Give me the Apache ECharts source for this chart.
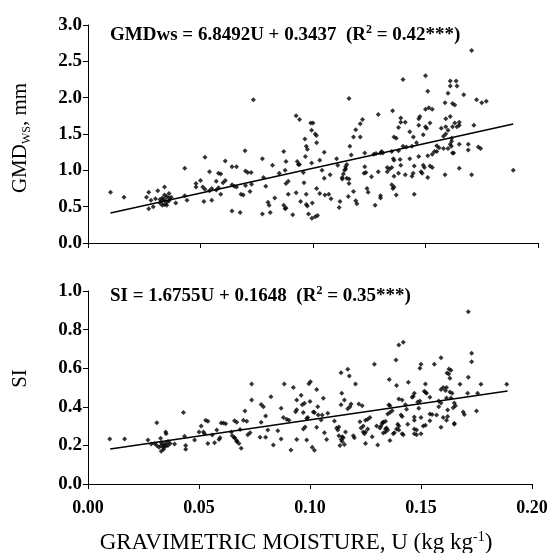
<!DOCTYPE html>
<html>
<head>
<meta charset="utf-8">
<script src="https://cdn.jsdelivr.net/npm/echarts@6/dist/echarts.min.js"></script>
<style>
html,body{margin:0;padding:0;background:#fff;}
#c{width:550px;height:553px;}
</style>
</head>
<body>
<div id="c"></div>
<script>
// ---- Top panel: GMDws vs U ----
var topU = [
0.010,0.016,0.027,0.026,0.028,0.027,0.029,0.031,0.030,0.034,
0.032,0.033,0.033,0.034,0.034,0.035,0.035,0.036,0.036,0.033,0.034,0.035,0.032,0.036,
0.037,0.039,0.043,0.043,0.044,0.048,0.048,0.050,0.0515,0.052,0.051,
0.052,0.054,0.055,0.057,0.058,0.055,0.054,0.058,0.059,0.057,0.061,0.059,0.060,0.061,
0.064,0.066,0.064,0.064,
0.0735,0.065,0.066,0.068,0.069,0.0676,0.0698,0.070,0.071,0.0725,0.072,0.0727,0.070,
0.0775,0.078,0.079,0.0775,0.080,0.0805,0.081,0.082,0.083,0.085,0.087,0.087,0.088,
0.088,0.0876,0.088,0.089,0.089,0.091,0.0925,0.094,0.093,0.0935,0.094,0.0925,0.0945,
0.0957,0.096,0.0966,0.0964,0.097,0.0975,0.097,0.097,0.0975,0.098,0.099,0.100,0.0994,
0.101,0.1015,0.0994,0.0997,0.1016,0.101,0.102,0.1016,0.103,0.103,0.104,0.105,0.105,
0.1053,0.107,0.1076,0.108,0.1105,0.111,0.1116,0.112,
0.113,0.1135,0.114,0.1145,0.115,0.1145,0.113,0.115,0.116,
0.116,0.1164,0.117,0.116,0.1157,0.118,0.119,0.118,0.121,0.121,0.119,0.1195,0.122,
0.1227,0.1235,0.123,0.123,0.124,0.1245,0.127,0.128,0.126,0.1276,0.129,0.129,0.130,0.130,
0.1305,0.0876,0.0995,
0.1705,0.140,0.150,0.151,0.161,0.1636,0.161,0.164,0.160,0.167,0.1587,0.162,0.163,
0.1727,0.175,0.177,0.1354,0.150,0.1515,0.153,0.139,0.139,0.141,0.147,0.1475,0.138,
0.143,0.147,0.150,0.1505,0.152,0.159,0.161,
0.157,0.159,0.160,0.162,0.163,0.165,0.165,0.164,
0.136,0.137,0.1446,0.149,0.158,0.159,0.1616,0.1616,0.1715,0.140,0.1415,0.144,0.146,
0.155,0.156,0.158,0.160,0.161,0.1615,0.165,0.169,0.169,0.1735,0.1745,0.130,0.131,
0.135,0.138,0.1357,0.1387,0.143,0.147,0.151,0.153,0.154,0.155,0.162,0.1625,0.189,
0.133,0.134,0.135,0.136,0.139,0.145,0.149,0.1495,0.152,0.153,0.165,0.1587,0.1705,
0.133,0.136,0.138,0.141,0.144,0.1445,0.148,0.1485,0.151,0.135,0.1355,0.136,0.137,0.145
];
var topGMD = [
0.70,0.63,0.70,0.63,0.59,0.47,0.50,0.72,0.61,0.77,
0.55,0.52,0.58,0.53,0.60,0.56,0.64,0.58,0.68,0.62,0.66,0.52,0.60,0.62,
0.63,0.55,1.03,0.65,0.59,0.82,0.77,0.86,0.57,1.18,0.77,
0.74,0.72,0.75,0.73,0.76,0.59,0.98,0.96,0.95,0.85,1.13,0.67,0.83,0.86,
1.05,1.05,0.44,0.80,
1.97,0.78,0.77,0.67,0.66,0.42,1.27,0.99,0.97,0.97,0.71,0.81,0.79,
1.16,0.90,0.78,0.40,0.56,0.52,0.42,1.07,0.62,0.96,1.26,0.52,0.48,
1.12,1.00,0.82,0.85,0.67,0.39,1.75,1.70,1.12,1.08,1.08,0.69,0.57,
0.97,0.83,1.19,1.43,1.33,1.29,0.67,0.53,0.51,0.40,1.65,1.65,1.55,
1.50,1.48,1.10,0.55,1.38,0.36,0.38,0.75,1.14,0.68,1.00,1.25,0.89,
0.66,0.67,0.94,0.61,1.16,1.07,0.49,0.57,
0.90,0.95,1.00,1.05,1.08,1.02,0.88,0.89,0.88,
1.99,1.33,1.21,0.82,0.64,0.71,1.56,1.46,1.46,1.64,0.58,0.54,1.70,
0.96,0.97,1.24,1.05,0.75,0.70,1.22,1.23,0.91,0.52,1.77,0.98,0.65,0.62,
1.26,0.47,0.34,
2.65,2.25,2.30,2.09,2.23,2.23,2.16,2.16,2.06,2.04,1.93,1.92,1.90,
1.97,1.93,1.95,1.82,1.84,1.86,1.84,1.72,1.66,1.66,1.71,1.74,1.59,
1.53,1.62,1.60,1.58,1.65,1.71,1.74,
1.58,1.60,1.55,1.60,1.65,1.66,1.62,1.60,
1.46,1.44,1.46,1.49,1.47,1.50,1.44,1.40,1.62,1.33,1.32,1.33,1.38,
1.34,1.31,1.30,1.30,1.36,1.33,1.36,1.36,1.28,1.32,1.30,1.24,1.24,
1.26,1.27,1.16,1.15,1.16,1.19,1.20,1.22,1.26,1.26,1.24,1.24,1.00,
1.04,1.02,1.04,1.14,1.07,1.06,1.07,1.04,1.06,1.04,1.03,0.94,0.94,
0.98,0.92,0.96,0.94,0.92,0.96,0.98,0.96,0.90,0.80,0.75,0.77,0.66,0.67
];

// ---- Bottom panel: SI vs U ----
var botU = [
0.0098,0.0165,0.027,0.0285,0.031,0.0327,0.035,0.0352,
0.032,0.033,0.033,0.034,0.034,0.035,0.035,0.036,0.036,0.037,0.033,0.034,0.031,0.030,
0.039,0.043,0.0435,0.044,0.044,0.048,0.050,0.051,0.053,0.054,0.052,0.0525,0.054,
0.056,0.057,0.058,0.060,0.061,0.062,0.059,0.0595,0.0646,0.065,0.067,0.066,0.067,
0.0737,0.0737,0.0707,0.070,0.0715,0.0685,0.066,0.066,0.067,0.068,0.069,0.072,0.073,
0.078,0.078,0.079,0.0775,0.080,0.080,0.081,0.0824,0.0835,0.0855,0.087,0.087,0.0884,
0.088,0.0895,0.0905,0.0914,0.0925,0.0935,0.094,0.094,0.094,0.096,0.0965,0.0975,0.097,
0.097,0.0978,0.0985,0.099,0.0985,0.0995,0.1002,0.100,0.101,0.102,0.1015,0.102,0.103,
0.1035,0.103,0.1037,0.105,0.106,0.1055,0.1065,0.1075,0.108,0.111,0.112,0.1125,0.113,
0.113,0.1145,0.114,0.115,0.1145,0.116,0.1135,0.1155,
0.114,0.1143,0.114,0.1155,0.117,0.1177,0.117,0.118,0.1185,0.1195,0.120,0.1205,0.122,
0.1235,0.1225,0.123,0.124,0.1245,0.125,0.124,0.126,0.125,0.126,0.127,0.125,0.128,
0.129,0.130,0.1315,0.132,0.133,0.1305,
0.1713,0.140,0.142,0.1387,0.1728,0.1728,0.150,0.1495,0.156,0.159,0.1626,0.1635,0.1617,
0.1625,0.163,0.1357,0.139,0.1443,0.152,0.1713,0.1676,0.177,0.1886,0.160,0.1615,0.161,
0.1515,0.1525,0.152,0.159,0.163,0.164,0.147,0.146,0.1465,0.154,0.171,0.1755,0.140,
0.1415,0.1355,0.136,0.143,0.1485,0.1495,0.158,0.159,0.1615,0.1635,0.165,0.1655,0.1645,
0.137,0.1435,0.149,0.158,0.162,0.169,0.1695,0.175,0.135,0.136,0.141,0.1415,0.147,
0.147,0.154,0.155,0.157,0.160,0.162,0.1615,0.150,0.133,0.134,0.1325,0.1395,0.140,
0.144,0.152,0.151,0.154,0.165,0.159,0.134,0.135,0.1345,0.139,0.140,0.147,0.148,
0.133,0.134,0.1415,0.142,0.147,0.148,0.150,0.1375,0.138,0.136,0.165
];
var botSI = [
0.233,0.233,0.228,0.207,0.318,0.237,0.27,0.26,
0.19,0.20,0.215,0.19,0.205,0.195,0.21,0.20,0.22,0.21,0.17,0.18,0.20,0.21,
0.207,0.37,0.248,0.20,0.18,0.228,0.27,0.30,0.33,0.325,0.27,0.26,0.21,
0.254,0.214,0.28,0.316,0.316,0.312,0.23,0.24,0.27,0.25,0.32,0.24,0.22,
0.518,0.435,0.378,0.33,0.325,0.283,0.328,0.24,0.225,0.21,0.185,0.255,0.265,
0.32,0.412,0.40,0.242,0.242,0.352,0.28,0.452,0.202,0.276,0.233,0.392,0.518,
0.345,0.335,0.33,0.176,0.50,0.375,0.385,0.435,0.23,0.46,0.41,0.418,0.37,
0.285,0.295,0.34,0.345,0.228,0.52,0.53,0.427,0.19,0.175,0.373,0.37,0.49,
0.40,0.294,0.357,0.332,0.444,0.357,0.266,0.23,0.366,0.326,0.29,0.28,0.295,
0.25,0.245,0.23,0.24,0.22,0.27,0.20,0.205,
0.577,0.47,0.41,0.435,0.594,0.56,0.39,0.40,0.415,0.25,0.24,0.518,0.415,
0.405,0.323,0.29,0.27,0.26,0.27,0.30,0.285,0.33,0.335,0.345,0.21,0.245,
0.62,0.30,0.29,0.30,0.32,0.202,
0.893,0.72,0.735,0.643,0.677,0.634,0.62,0.60,0.62,0.654,0.596,0.59,0.575,
0.57,0.548,0.542,0.51,0.527,0.518,0.553,0.517,0.517,0.517,0.50,0.50,0.485,
0.48,0.47,0.475,0.49,0.477,0.47,0.47,0.45,0.455,0.45,0.47,0.47,0.44,
0.435,0.41,0.405,0.41,0.425,0.43,0.43,0.42,0.445,0.445,0.42,0.405,0.395,
0.38,0.387,0.392,0.40,0.383,0.373,0.36,0.378,0.363,0.37,0.358,0.35,0.347,
0.33,0.363,0.36,0.357,0.345,0.35,0.33,0.345,0.32,0.325,0.315,0.31,0.30,
0.31,0.305,0.30,0.328,0.31,0.294,0.285,0.28,0.29,0.285,0.28,0.285,0.28,
0.264,0.27,0.26,0.255,0.26,0.255,0.26,0.26,0.265,0.225,0.315
];

// Regression equations (slope, intercept) and fitted range
var topFit = [6.8492, 0.3437];
var botFit = [1.6755, 0.1648];
var fitRange = [0.01, 0.189];

var xTicks = [0, 0.2, 0.05];
var topYTicks = [0, 3, 0.5];
var botYTicks = [0, 1, 0.2];

function zip(a, b) { var r = []; for (var i = 0; i < Math.min(a.length, b.length); i++) r.push([a[i], b[i]]); return r; }
function fitLine(f) { return fitRange.map(function (u) { return [u, f[0] * u + f[1]]; }); }

var FONT = '"Liberation Serif","Times New Roman",serif';
var chart = echarts.init(document.getElementById('c'), null, { renderer: 'canvas' });

function xAxis(grid, showLabel) {
  return {
    type: 'value', gridIndex: grid, min: xTicks[0], max: xTicks[1], interval: xTicks[2],
    axisLine: { show: true, onZero: false, lineStyle: { color: '#000', width: 1 } },
    axisTick: { show: true, inside: false, length: 5, lineStyle: { color: '#000' } },
    splitLine: { show: false },
    axisLabel: {
      show: showLabel, margin: 15, color: '#000', fontFamily: FONT, fontWeight: 'bold', fontSize: 18,
      formatter: function (v) { return v.toFixed(2); }
    }
  };
}
function yAxis(grid, t, name, gap, pad) {
  return {
    type: 'value', gridIndex: grid, min: t[0], max: t[1], interval: t[2],
    axisLine: { show: true, lineStyle: { color: '#000', width: 1 } },
    axisTick: { show: true, inside: false, length: 5, lineStyle: { color: '#000' } },
    splitLine: { show: false },
    axisLabel: {
      margin: 6, color: '#000', fontFamily: FONT, fontWeight: 'bold', fontSize: 19,
      formatter: function (v) { return v.toFixed(1); }
    },
    name: name, nameLocation: 'middle', nameGap: gap, nameRotate: 90,
    nameTextStyle: {
      color: '#000', fontFamily: FONT, fontSize: 21, padding: pad,
      rich: {
        a: { fontFamily: FONT, fontSize: 21, color: '#000', lineHeight: 25 },
        sub: { fontFamily: FONT, fontSize: 12, color: '#000', verticalAlign: 'bottom', lineHeight: 25 }
      }
    }
  };
}

var xa1 = xAxis(1, true);
xa1.name = 'GRAVIMETRIC MOISTURE, U (kg kg{sup|-1})';
xa1.nameLocation = 'middle';
xa1.nameGap = 46;
xa1.nameTextStyle = {
  color: '#000', fontFamily: FONT, fontSize: 23, padding: [0, 28, 0, 0],
  rich: { sup: { fontFamily: FONT, fontSize: 14, color: '#000', verticalAlign: 'top', lineHeight: 25 } }
};

var supStyle = { fontFamily: FONT, fontWeight: 'bold', fontSize: 12, color: '#000', verticalAlign: 'top', lineHeight: 22 };
var option = {
  animation: false,
  backgroundColor: '#fff',
  title: [
    {
      left: 110, top: 24, padding: 0,
      text: 'GMDws = 6.8492U + 0.3437  (R{sup|2} = 0.42***)',
      textStyle: { color: '#000', fontFamily: FONT, fontWeight: 'bold', fontSize: 19, rich: { sup: supStyle } }
    },
    {
      left: 110, top: 285, padding: 0,
      text: 'SI = 1.6755U + 0.1648  (R{sup|2} = 0.35***)',
      textStyle: { color: '#000', fontFamily: FONT, fontWeight: 'bold', fontSize: 19, rich: { sup: supStyle } }
    }
  ],
  grid: [
    { left: 88, top: 25, width: 450, height: 218, outerBoundsMode: 'none', containLabel: false },
    { left: 88, top: 291, width: 444, height: 193, outerBoundsMode: 'none', containLabel: false }
  ],
  xAxis: [xAxis(0, false), xa1],
  yAxis: [
    yAxis(0, topYTicks, '{a|GMD}{sub|WS}{a|, mm}', 55, [0, 8, 0, 0]),
    yAxis(1, botYTicks, '{a|SI}', 55, [0, 0, 0, 18])
  ],
  series: [
    { type: 'scatter', xAxisIndex: 0, yAxisIndex: 0, data: zip(topU, topGMD), symbol: 'diamond', symbolSize: 5, itemStyle: { color: '#000' } },
    { type: 'line', xAxisIndex: 0, yAxisIndex: 0, data: fitLine(topFit), showSymbol: false, symbol: 'none', lineStyle: { color: '#000', width: 1.5 } },
    { type: 'scatter', xAxisIndex: 1, yAxisIndex: 1, data: zip(botU, botSI), symbol: 'diamond', symbolSize: 5, itemStyle: { color: '#000' } },
    { type: 'line', xAxisIndex: 1, yAxisIndex: 1, data: fitLine(botFit), showSymbol: false, symbol: 'none', lineStyle: { color: '#000', width: 1.5 } }
  ]
};
chart.setOption(option);
</script>
</body>
</html>
